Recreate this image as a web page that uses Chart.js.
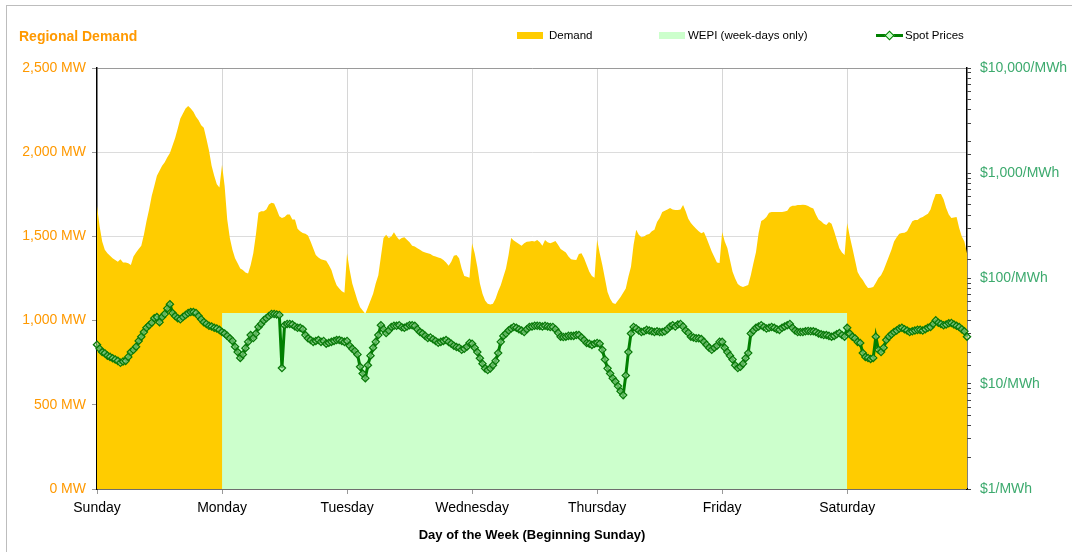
<!DOCTYPE html>
<html>
<head>
<meta charset="utf-8">
<script src="https://cdn.jsdelivr.net/npm/chart.js@4.4.1/dist/chart.umd.min.js"></script>
<style>
  body { margin: 0; background: #fff; font-family: Arial, 'Liberation Sans', sans-serif; }
  #wrap { position: relative; width: 1072px; height: 552px; overflow: hidden; }
  #frame { position: absolute; left: 6px; top: 5px; width: 1080px; height: 560px; border-top: 1px solid #bdbdbd; border-left: 1px solid #bdbdbd; }
  #grafico { position: absolute; left: 0; top: 0; }
  .titolo { position: absolute; left: 19px; top: 28px; line-height: 16px; font-size: 14px; font-weight: bold; color: #FF9900; }
  .leg-box { position: absolute; top: 32px; width: 26px; height: 7px; }
  .leg-txt { position: absolute; top: 28px; line-height: 14px; font-size: 11.5px; color: #000; }
  .leg-line { position: absolute; left: 876px; top: 34px; width: 27px; height: 3px; background: #008000; }
  .leg-dot { position: absolute; left: 886px; top: 32px; width: 5px; height: 5px; border: 1px solid #008000; background: #CCFFCC; transform: rotate(45deg); }
</style>
</head>
<body>
<div id="wrap">
  <canvas id="grafico" width="1072" height="552"></canvas>
  <div id="frame"></div>
  <div class="titolo">Regional Demand</div>
  <div class="leg-box" style="left:517px;background:#FFCC00"></div>
  <div class="leg-txt" style="left:549px">Demand</div>
  <div class="leg-box" style="left:659px;background:#CCFFCC"></div>
  <div class="leg-txt" style="left:688px">WEPI (week-days only)</div>
  <div class="leg-line"></div>
  <div class="leg-dot"></div>
  <div class="leg-txt" style="left:905px">Spot Prices</div>
</div>
<script>
// DATI - mezz'ore, 48 per giorno (sabato incompleto)
const giorni = ['Sunday', 'Monday', 'Tuesday', 'Wednesday', 'Thursday', 'Friday', 'Saturday'];

// Domanda (MW)
const domandaSun = [1680,1560,1470,1420,1400,1385,1370,1360,1350,1365,1345,1345,1340,1330,1380,1405,1425,1445,1510,1590,1660,1740,1800,1860,1890,1920,1940,1970,1995,2040,2085,2140,2200,2230,2260,2275,2260,2240,2210,2190,2160,2145,2080,2010,1920,1860,1810,1790];
const domandaMon = [1925,1800,1600,1490,1420,1370,1340,1310,1300,1285,1280,1330,1400,1510,1640,1650,1650,1660,1690,1700,1695,1660,1620,1610,1615,1630,1630,1600,1600,1545,1530,1520,1515,1505,1470,1430,1390,1375,1365,1360,1355,1330,1300,1250,1210,1190,1175,1165];
const domandaTue = [1400,1300,1220,1170,1120,1080,1060,1040,1080,1120,1160,1220,1270,1380,1490,1510,1490,1500,1525,1500,1480,1490,1495,1480,1465,1445,1440,1430,1420,1410,1405,1400,1395,1385,1380,1375,1370,1360,1345,1325,1350,1385,1390,1370,1310,1265,1260,1255];
const domandaWed = [1460,1400,1320,1220,1160,1120,1100,1095,1100,1130,1175,1210,1260,1310,1390,1490,1475,1465,1455,1445,1460,1468,1470,1472,1470,1478,1465,1445,1478,1465,1460,1465,1473,1450,1425,1415,1405,1380,1365,1362,1360,1395,1400,1370,1330,1290,1265,1255];
const domandaThu = [1480,1400,1330,1250,1170,1130,1105,1098,1120,1140,1165,1190,1260,1320,1450,1540,1510,1495,1500,1510,1514,1530,1540,1585,1610,1645,1652,1660,1669,1660,1657,1657,1660,1686,1650,1605,1580,1562,1545,1530,1518,1526,1490,1450,1410,1378,1345,1342];
const domandaFri = [1526,1470,1431,1360,1290,1250,1217,1205,1200,1205,1211,1270,1340,1407,1520,1591,1600,1615,1640,1645,1645,1645,1645,1645,1648,1652,1675,1682,1682,1686,1686,1688,1686,1680,1672,1665,1630,1600,1590,1575,1568,1585,1575,1530,1480,1430,1405,1390];
const domandaSat = [1580,1500,1431,1360,1288,1260,1241,1215,1194,1195,1200,1225,1253,1270,1300,1340,1380,1420,1470,1495,1515,1520,1522,1530,1560,1590,1597,1597,1610,1615,1625,1635,1660,1710,1752,1752,1752,1720,1669,1630,1609,1612,1615,1550,1500,1470,1400];

// Prezzi spot ($/MWh)
const prezziSun = [23.5,21.5,20,19.5,18.5,18,17.5,17,16.5,15.8,16.3,16.5,18,20,21,22.5,25.5,28,31,34,36,38,42,43,38.5,43,46,52,57,47,44,42,41,43,45,47,48,48,47,44,41,38.5,37,35.5,35,34,33.5,32.5];
const prezziMon = [31,30,28.5,27,25.5,22.5,20,17.6,19,21.8,25,29,27.2,30,34.6,37,40,42,44,46,46,45.5,45,14.1,36,37,37,36.5,35,34,34,33,29,27,26,25,25.5,26,25,25.5,24,24.5,25,25.5,26,26,25.5,25];
const prezziTue = [25.5,23,21.5,20.5,19,14.5,12.5,11.3,15,18.5,22,25,29,36,33,30.3,32,34.6,35.5,35.5,36,34.5,34,35,36,36,35.5,33,31,30,28.5,27.2,27.5,26.5,25.5,24.5,25,25.5,26,25,24,23,22.3,22,21,21.5,22.5,24.4];
const prezziWed = [24,22,20,17.5,15.5,14,13.5,14,15,16.5,19.6,25,28.5,30,32,33.5,34.6,34,33,32,31,33,34.6,35,35.5,35.5,35.4,35,35.5,35,34.6,34.6,33,30.5,28,27.8,28,28.5,28.5,28.5,29,29,27.5,26,24.4,24,23.4,24];
const prezziThu = [24.4,24,21,17,14,12.5,11.3,10.5,9.5,8.5,7.8,12,20,30,34.6,33.5,32,31,31.5,32.5,32,31.5,31,31.5,31,31,31.5,33,35,36,35,36.5,37,35,32,30.5,28,27.5,27,27,26.6,25,23.5,22,21,22,23,25];
const prezziFri = [25,22,20,18.5,17,15,14.1,14.5,15.5,17.5,19.6,30,32,34,35,36,34.6,33.5,34,34.6,34,33,32.5,34,35,36,37,34,32,31,31,31,31.5,31.7,31.5,31.5,31,30,29.5,29,29,28.5,28,28.5,29.5,30.3,29,28];
const prezziSat = [34,30,28,27,25,24.4,19.6,18,17.6,17.2,17.6,28,21,20,22,26,28,29.5,31,32,33.5,34,33,32,31,31.5,32,32.5,32.5,32,33,34,34.6,37,40,38,37,36,36.5,37.5,37.8,36.5,35.5,34.6,33,31.5,28];

// WEPI, solo giorni feriali (lun-ven)
const wepi = 47;
const giorniFeriali = ['Monday', 'Tuesday', 'Wednesday', 'Thursday', 'Friday'];

// Tick
const tickMW = [0, 500, 1000, 1500, 2000, 2500];
const tickPrezzi = [1, 10, 100, 1000, 10000];

const puntiGiorno = 48;

// COSTRUZIONE SERIE
const domanda = [].concat(domandaSun, domandaMon, domandaTue, domandaWed, domandaThu, domandaFri, domandaSat);
const prezzi = [].concat(prezziSun, prezziMon, prezziTue, prezziWed, prezziThu, prezziFri, prezziSat);

const etichette = domanda.map((d, i) => {
  const g = giorni[Math.floor(i / puntiGiorno)];
  const h = i % puntiGiorno;
  return g + ' ' + String(Math.floor(h / 2)).padStart(2, '0') + ':' + (h % 2 ? '30' : '00');
});

// WEPI: valore costante da lunedi a inizio sabato
const serieWepi = etichette.map((e, i) => {
  const g = giorni[Math.floor(i / puntiGiorno)];
  if (giorniFeriali.includes(g)) return wepi;
  if (i === giorni.indexOf('Saturday') * puntiGiorno) return wepi;
  return null;
});

const arancio = '#FF9900';
const verdeAsse = '#3DAA6E';
const fontBase = "Arial, 'Liberation Sans', sans-serif";

const canvas = document.getElementById('grafico');

new Chart(canvas, {
  type: 'line',
  data: {
    labels: etichette,
    datasets: [
      {
        label: 'Spot Prices',
        data: prezzi,
        yAxisID: 'y1',
        borderColor: '#008000',
        borderWidth: 3,
        pointStyle: 'rectRot',
        pointRadius: 3.6,
        pointBorderWidth: 1.3,
        pointBorderColor: '#0a7a0a',
        pointBackgroundColor: 'rgba(170,225,170,0.55)',
        fill: false,
        tension: 0,
        order: 1
      },
      {
        label: 'WEPI (week-days only)',
        data: serieWepi,
        yAxisID: 'y1',
        borderWidth: 0,
        borderColor: 'rgba(0,0,0,0)',
        backgroundColor: '#CCFFCC',
        pointRadius: 0,
        fill: 'start',
        spanGaps: false,
        order: 2
      },
      {
        label: 'Demand',
        data: domanda,
        yAxisID: 'y',
        borderWidth: 0,
        borderColor: 'rgba(0,0,0,0)',
        backgroundColor: '#FFCC00',
        pointRadius: 0,
        fill: 'origin',
        tension: 0,
        order: 3
      }
    ]
  },
  options: {
    responsive: false,
    animation: false,
    events: [],
    layout: { padding: { top: 68, left: 0, right: 0, bottom: 0 } },
    plugins: {
      legend: { display: false },
      tooltip: { enabled: false }
    },
    scales: {
      x: {
        type: 'category',
        offset: false,
        afterFit: s => { s.height = 63; },
        border: { color: '#000', width: 1.5 },
        grid: {
          offset: false,
          color: ctx => (ctx.index % puntiGiorno === 0 && ctx.index > 0) ? '#d6d6d6' : 'rgba(0,0,0,0)',
          tickColor: ctx => ctx.index % puntiGiorno === 0 ? '#999' : 'rgba(0,0,0,0)',
          tickLength: 5
        },
        ticks: {
          autoSkip: false,
          maxRotation: 0,
          minRotation: 0,
          padding: 6,
          color: '#000',
          font: { family: fontBase, size: 14 },
          callback: (v, i) => i % puntiGiorno === 0 ? giorni[i / puntiGiorno] : ''
        },
        title: {
          display: true,
          text: 'Day of the Week (Beginning Sunday)',
          color: '#000',
          font: { family: fontBase, size: 13, weight: 'bold' },
          padding: { top: 4, bottom: 9 }
        }
      },
      y: {
        position: 'left',
        min: 0,
        max: 2500,
        afterFit: s => { s.width = 97; },
        afterBuildTicks: s => { s.ticks = tickMW.map(v => ({ value: v })); },
        border: { color: '#000', width: 1.5 },
        grid: {
          color: ctx => ctx.tick && ctx.tick.value === 2500 ? '#9a9a9a' : '#dcdcdc',
          tickColor: '#999',
          tickLength: 5
        },
        ticks: {
          padding: 6,
          color: arancio,
          font: { family: fontBase, size: 14 },
          callback: v => v.toLocaleString('en-US') + ' MW'
        }
      },
      y1: {
        type: 'logarithmic',
        position: 'right',
        min: 1,
        max: 10000,
        afterFit: s => { s.width = 105; },
        border: { color: '#000', width: 1.5 },
        grid: {
          drawOnChartArea: false,
          tickColor: '#444',
          tickLength: 4
        },
        ticks: {
          autoSkip: false,
          padding: 9,
          color: verdeAsse,
          font: { family: fontBase, size: 14 },
          callback: v => tickPrezzi.includes(v) ? '$' + v.toLocaleString('en-US') + '/MWh' : ''
        }
      }
    }
  }
});
</script>
</body>
</html>
